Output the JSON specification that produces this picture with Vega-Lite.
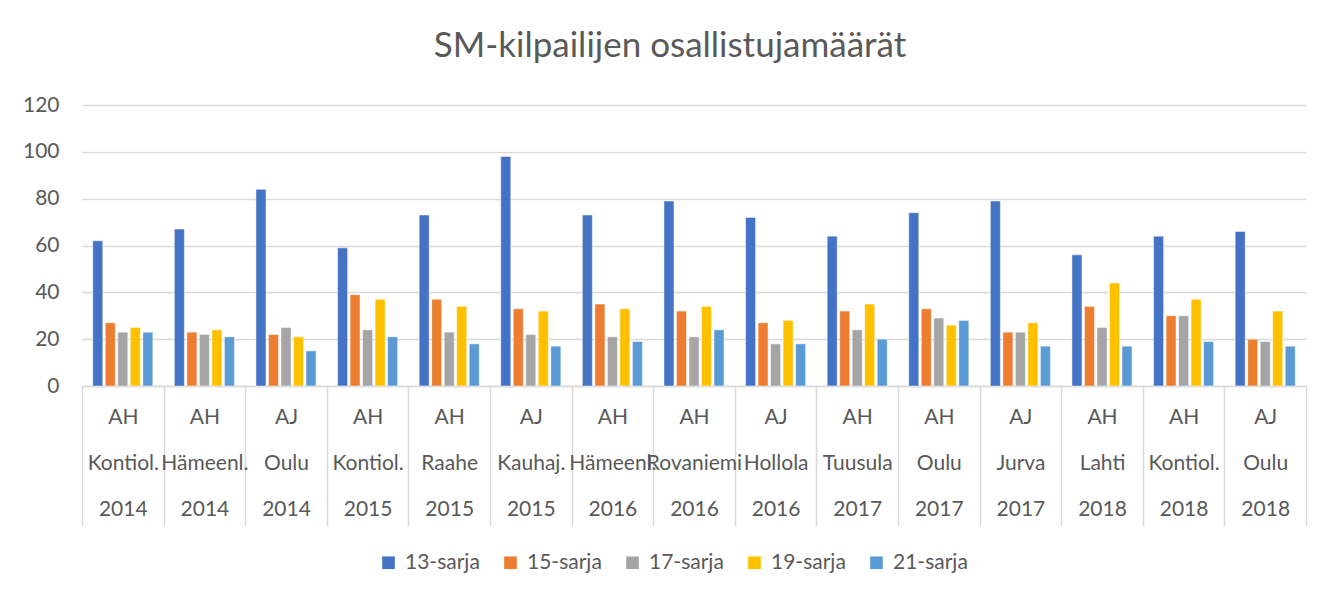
{
  "$schema": "https://vega.github.io/schema/vega-lite/v6.json",
  "width": 1224,
  "height": 281,
  "autosize": {"type": "none"},
  "padding": {"left": 82, "top": 105, "right": 35, "bottom": 211},
  "background": "white",
  "title": {
    "text": "SM-kilpailijen osallistujamäärät",
    "font": "Lato",
    "fontSize": 35,
    "fontWeight": "normal",
    "color": "#595959",
    "anchor": "middle",
    "dx": -24,
    "offset": 30
  },
  "data": {
    "values": [
      {"kisa": "AH|Kontiol.|2014", "sarja": "13-sarja", "n": 62},
      {"kisa": "AH|Kontiol.|2014", "sarja": "15-sarja", "n": 27},
      {"kisa": "AH|Kontiol.|2014", "sarja": "17-sarja", "n": 23},
      {"kisa": "AH|Kontiol.|2014", "sarja": "19-sarja", "n": 25},
      {"kisa": "AH|Kontiol.|2014", "sarja": "21-sarja", "n": 23},
      {"kisa": "AH|Hämeenl.|2014", "sarja": "13-sarja", "n": 67},
      {"kisa": "AH|Hämeenl.|2014", "sarja": "15-sarja", "n": 23},
      {"kisa": "AH|Hämeenl.|2014", "sarja": "17-sarja", "n": 22},
      {"kisa": "AH|Hämeenl.|2014", "sarja": "19-sarja", "n": 24},
      {"kisa": "AH|Hämeenl.|2014", "sarja": "21-sarja", "n": 21},
      {"kisa": "AJ|Oulu|2014", "sarja": "13-sarja", "n": 84},
      {"kisa": "AJ|Oulu|2014", "sarja": "15-sarja", "n": 22},
      {"kisa": "AJ|Oulu|2014", "sarja": "17-sarja", "n": 25},
      {"kisa": "AJ|Oulu|2014", "sarja": "19-sarja", "n": 21},
      {"kisa": "AJ|Oulu|2014", "sarja": "21-sarja", "n": 15},
      {"kisa": "AH|Kontiol.|2015", "sarja": "13-sarja", "n": 59},
      {"kisa": "AH|Kontiol.|2015", "sarja": "15-sarja", "n": 39},
      {"kisa": "AH|Kontiol.|2015", "sarja": "17-sarja", "n": 24},
      {"kisa": "AH|Kontiol.|2015", "sarja": "19-sarja", "n": 37},
      {"kisa": "AH|Kontiol.|2015", "sarja": "21-sarja", "n": 21},
      {"kisa": "AH|Raahe|2015", "sarja": "13-sarja", "n": 73},
      {"kisa": "AH|Raahe|2015", "sarja": "15-sarja", "n": 37},
      {"kisa": "AH|Raahe|2015", "sarja": "17-sarja", "n": 23},
      {"kisa": "AH|Raahe|2015", "sarja": "19-sarja", "n": 34},
      {"kisa": "AH|Raahe|2015", "sarja": "21-sarja", "n": 18},
      {"kisa": "AJ|Kauhaj.|2015", "sarja": "13-sarja", "n": 98},
      {"kisa": "AJ|Kauhaj.|2015", "sarja": "15-sarja", "n": 33},
      {"kisa": "AJ|Kauhaj.|2015", "sarja": "17-sarja", "n": 22},
      {"kisa": "AJ|Kauhaj.|2015", "sarja": "19-sarja", "n": 32},
      {"kisa": "AJ|Kauhaj.|2015", "sarja": "21-sarja", "n": 17},
      {"kisa": "AH|Hämeenl.|2016", "sarja": "13-sarja", "n": 73},
      {"kisa": "AH|Hämeenl.|2016", "sarja": "15-sarja", "n": 35},
      {"kisa": "AH|Hämeenl.|2016", "sarja": "17-sarja", "n": 21},
      {"kisa": "AH|Hämeenl.|2016", "sarja": "19-sarja", "n": 33},
      {"kisa": "AH|Hämeenl.|2016", "sarja": "21-sarja", "n": 19},
      {"kisa": "AH|Rovaniemi|2016", "sarja": "13-sarja", "n": 79},
      {"kisa": "AH|Rovaniemi|2016", "sarja": "15-sarja", "n": 32},
      {"kisa": "AH|Rovaniemi|2016", "sarja": "17-sarja", "n": 21},
      {"kisa": "AH|Rovaniemi|2016", "sarja": "19-sarja", "n": 34},
      {"kisa": "AH|Rovaniemi|2016", "sarja": "21-sarja", "n": 24},
      {"kisa": "AJ|Hollola|2016", "sarja": "13-sarja", "n": 72},
      {"kisa": "AJ|Hollola|2016", "sarja": "15-sarja", "n": 27},
      {"kisa": "AJ|Hollola|2016", "sarja": "17-sarja", "n": 18},
      {"kisa": "AJ|Hollola|2016", "sarja": "19-sarja", "n": 28},
      {"kisa": "AJ|Hollola|2016", "sarja": "21-sarja", "n": 18},
      {"kisa": "AH|Tuusula|2017", "sarja": "13-sarja", "n": 64},
      {"kisa": "AH|Tuusula|2017", "sarja": "15-sarja", "n": 32},
      {"kisa": "AH|Tuusula|2017", "sarja": "17-sarja", "n": 24},
      {"kisa": "AH|Tuusula|2017", "sarja": "19-sarja", "n": 35},
      {"kisa": "AH|Tuusula|2017", "sarja": "21-sarja", "n": 20},
      {"kisa": "AH|Oulu|2017", "sarja": "13-sarja", "n": 74},
      {"kisa": "AH|Oulu|2017", "sarja": "15-sarja", "n": 33},
      {"kisa": "AH|Oulu|2017", "sarja": "17-sarja", "n": 29},
      {"kisa": "AH|Oulu|2017", "sarja": "19-sarja", "n": 26},
      {"kisa": "AH|Oulu|2017", "sarja": "21-sarja", "n": 28},
      {"kisa": "AJ|Jurva|2017", "sarja": "13-sarja", "n": 79},
      {"kisa": "AJ|Jurva|2017", "sarja": "15-sarja", "n": 23},
      {"kisa": "AJ|Jurva|2017", "sarja": "17-sarja", "n": 23},
      {"kisa": "AJ|Jurva|2017", "sarja": "19-sarja", "n": 27},
      {"kisa": "AJ|Jurva|2017", "sarja": "21-sarja", "n": 17},
      {"kisa": "AH|Lahti|2018", "sarja": "13-sarja", "n": 56},
      {"kisa": "AH|Lahti|2018", "sarja": "15-sarja", "n": 34},
      {"kisa": "AH|Lahti|2018", "sarja": "17-sarja", "n": 25},
      {"kisa": "AH|Lahti|2018", "sarja": "19-sarja", "n": 44},
      {"kisa": "AH|Lahti|2018", "sarja": "21-sarja", "n": 17},
      {"kisa": "AH|Kontiol.|2018", "sarja": "13-sarja", "n": 64},
      {"kisa": "AH|Kontiol.|2018", "sarja": "15-sarja", "n": 30},
      {"kisa": "AH|Kontiol.|2018", "sarja": "17-sarja", "n": 30},
      {"kisa": "AH|Kontiol.|2018", "sarja": "19-sarja", "n": 37},
      {"kisa": "AH|Kontiol.|2018", "sarja": "21-sarja", "n": 19},
      {"kisa": "AJ|Oulu|2018", "sarja": "13-sarja", "n": 66},
      {"kisa": "AJ|Oulu|2018", "sarja": "15-sarja", "n": 20},
      {"kisa": "AJ|Oulu|2018", "sarja": "17-sarja", "n": 19},
      {"kisa": "AJ|Oulu|2018", "sarja": "19-sarja", "n": 32},
      {"kisa": "AJ|Oulu|2018", "sarja": "21-sarja", "n": 17}
    ]
  },
  "mark": {"type": "bar", "stroke": "white", "strokeWidth": 0.8, "strokeOpacity": 0.6},
  "encoding": {
    "x": {
      "field": "kisa",
      "type": "nominal",
      "sort": null,
      "title": null,
      "scale": {"paddingInner": 0, "paddingOuter": 0},
      "axis": {
        "labelExpr": "isValid(datum.value) ? split(datum.value, '|') : ''",
        "labelAngle": 0,
        "labelFont": "Lato",
        "labelFontSize": 21,
        "labelColor": "#595959",
        "labelLineHeight": 46,
        "labelBaseline": "middle",
        "labelPadding": -109,
        "labelOverlap": false,
        "labelBound": false,
        "labelLimit": 0,
        "tickBand": "extent",
        "tickSize": 140,
        "tickColor": "#d9d9d9",
        "tickWidth": 1.5,
        "domainColor": "#d9d9d9",
        "domainWidth": 1.5,
        "grid": false
      }
    },
    "xOffset": {
      "field": "sarja",
      "type": "nominal",
      "scale": {"paddingInner": 0.2, "paddingOuter": 0.86}
    },
    "y": {
      "field": "n",
      "type": "quantitative",
      "title": null,
      "scale": {"domain": [0, 120]},
      "axis": {
        "values": [0, 20, 40, 60, 80, 100, 120],
        "labelFont": "Lato",
        "labelFontSize": 21,
        "labelColor": "#595959",
        "labelPadding": 23,
        "ticks": false,
        "domain": false,
        "gridColor": "#d9d9d9",
        "gridWidth": 1.5
      }
    },
    "color": {
      "field": "sarja",
      "type": "nominal",
      "scale": {
        "domain": ["13-sarja", "15-sarja", "17-sarja", "19-sarja", "21-sarja"],
        "range": ["#4472C4", "#ED7D31", "#A5A5A5", "#FFC000", "#5B9BD5"]
      },
      "legend": {
        "orient": "none",
        "direction": "horizontal",
        "legendX": 296,
        "legendY": 447,
        "title": null,
        "symbolType": "square",
        "symbolSize": 160,
        "symbolStrokeWidth": 0,
        "labelFont": "Lato",
        "labelFontSize": 21,
        "labelColor": "#595959",
        "columnPadding": 20,
        "labelOffset": 6
      }
    }
  },
  "config": {
    "view": {"stroke": null}
  }
}
